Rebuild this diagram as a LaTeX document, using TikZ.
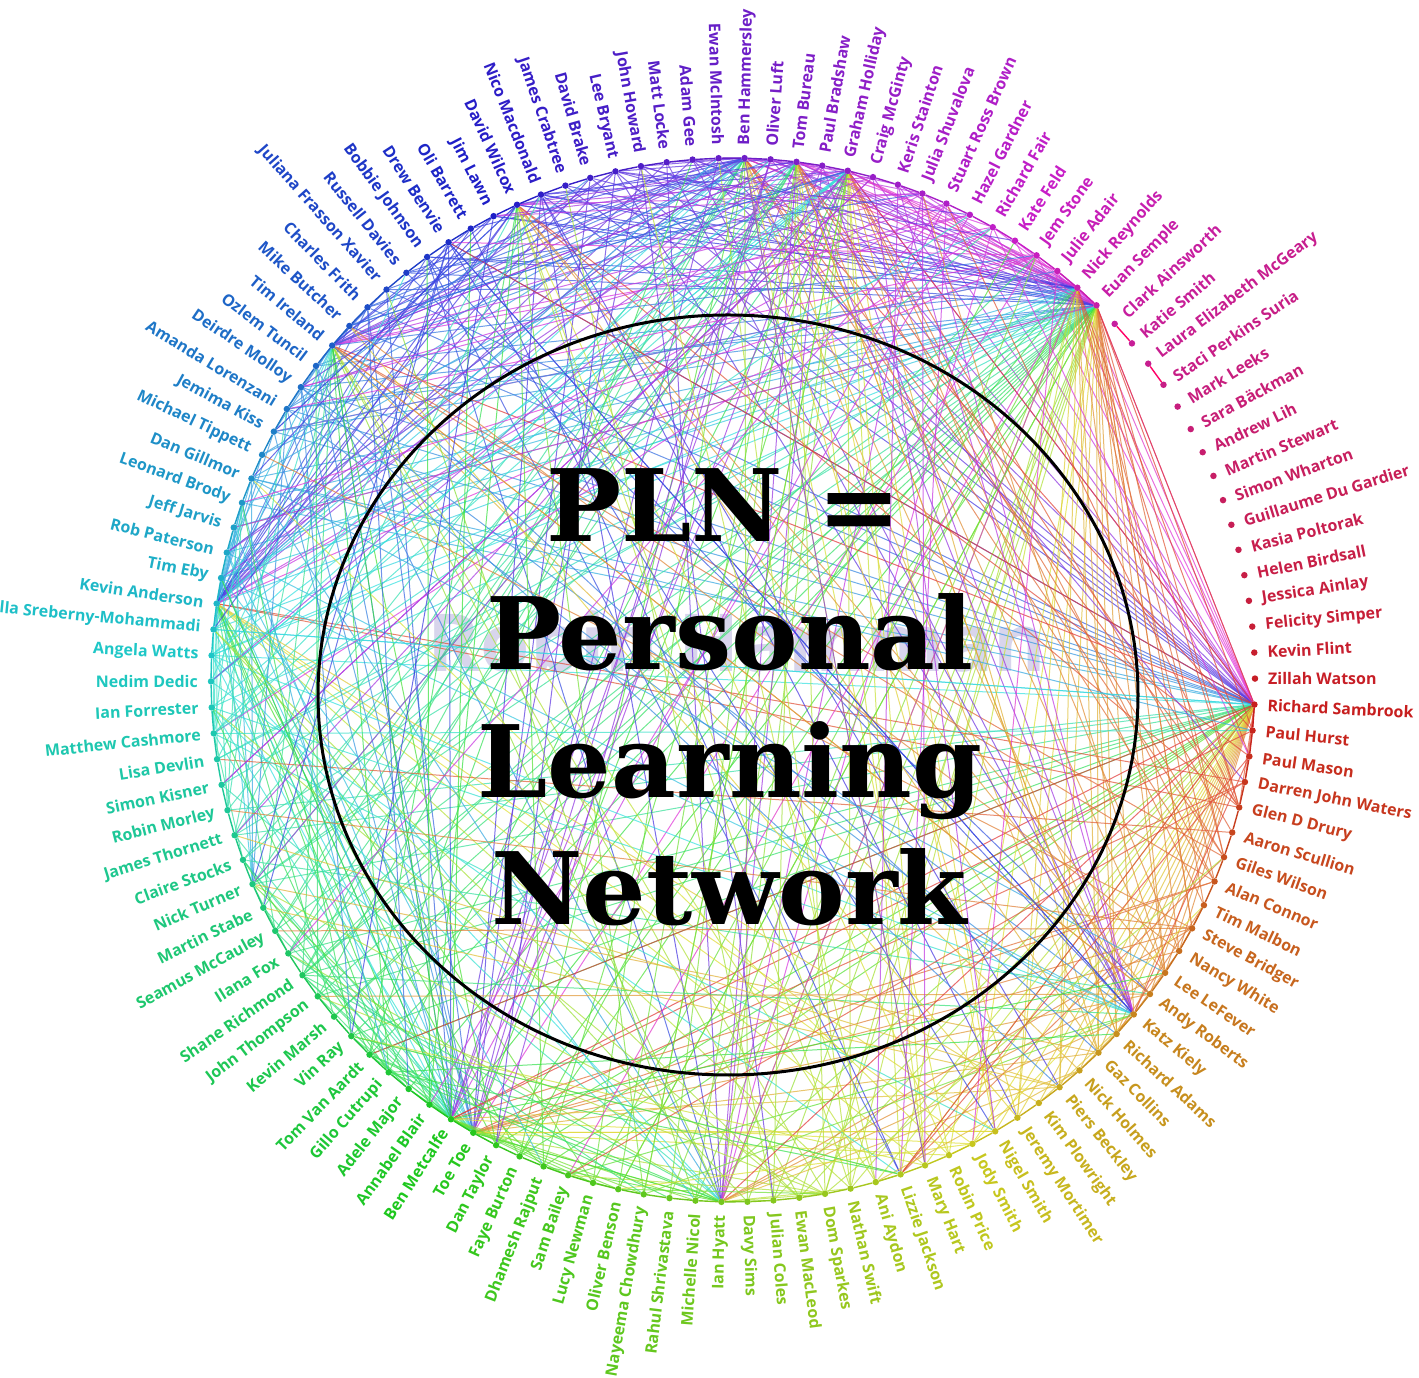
\PassOptionsToPackage{rgb}{xcolor}
\documentclass[tikz,border=0pt]{standalone}
\usepackage{fontspec}
\setmainfont{DejaVu Serif}
\newfontfamily\namefont{Open Sans}
\usepackage{xcolor}
\definecolor{cInk}{HTML}{000000}
\definecolor{cMark}{HTML}{D8D5EC}
\usetikzlibrary{backgrounds}
\tikzset{
  node-dot/.style={circle,inner sep=0pt,minimum size=6.5pt,draw=none},
  node-name/.style={inner sep=0pt,font=\namefont\bfseries\fontsize{16}{16}\selectfont},
  node-title/.style={inner sep=0pt,anchor=base,text=cInk,
    font=\bfseries\fontsize{100}{100}\selectfont},
  node-mark/.style={inner sep=0pt,anchor=base,text=cMark,
    font=\namefont\bfseries\fontsize{80}{80}\selectfont},
  link/.style={line width=1pt,opacity=0.72},
  ring/.style={line width=1.4pt},
  rim/.style={draw=cInk,line width=3pt},
}

\begin{document}
\begin{tikzpicture}[x=1pt,y=1pt]
  \useasboundingbox (0,0) rectangle (1419,1378);
  \begin{scope}[shift={(733,698)}]
  % names round the ring, clockwise from the right
  \foreach \nm [count=\i] in {Richard Sambrook,Paul Hurst,Paul Mason,
    Darren John Waters,Glen D Drury,Aaron Scullion,Giles Wilson,Alan Connor,
    Tim Malbon,Steve Bridger,Nancy White,Lee LeFever,Andy Roberts,Katz Kiely,
    Richard Adams,Gaz Collins,Nick Holmes,Piers Beckley,Kim Plowright,
    Jeremy Mortimer,Nigel Smith,Jody Smith,Robin Price,Mary Hart,
    Lizzie Jackson,Ani Aydon,Nathan Swift,Dom Sparkes,Ewan MacLeod,
    Julian Coles,Davy Sims,Ian Hyatt,Michelle Nicol,Rahul Shrivastava,
    Nayeema Chowdhury,Oliver Benson,Lucy Newman,Sam Bailey,Dhamesh Rajput,
    Faye Burton,Dan Taylor,Toe Toe,Ben Metcalfe,Annabel Blair,Adele Major,
    Gillo Cutrupi,Tom Van Aardt,Vin Ray,Kevin Marsh,John Thompson,
    Shane Richmond,Ilana Fox,Seamus McCauley,Martin Stabe,Nick Turner,
    Claire Stocks,James Thornett,Robin Morley,Simon Kisner,Lisa Devlin,
    Matthew Cashmore,Ian Forrester,Nedim Dedic,Angela Watts,
    Annabella Sreberny-Mohammadi,Kevin Anderson,Tim Eby,Rob Paterson,
    Jeff Jarvis,Leonard Brody,Dan Gillmor,Michael Tippett,Jemima Kiss,
    Amanda Lorenzani,Deirdre Molloy,Ozlem Tuncil,Tim Ireland,Mike Butcher,
    Charles Frith,Juliana Frasson Xavier,Russell Davies,Bobbie Johnson,
    Drew Benvie,Oli Barrett,Jim Lawn,David Wilcox,Nico Macdonald,
    James Crabtree,David Brake,Lee Bryant,John Howard,Matt Locke,Adam Gee,
    Ewan McIntosh,Ben Hammersley,Oliver Luft,Tom Bureau,Paul Bradshaw,
    Graham Holliday,Craig McGinty,Keris Stainton,Julia Shuvalova,
    Stuart Ross Brown,Hazel Gardner,Richard Fair,Kate Feld,Jem Stone,
    Julie Adair,Nick Reynolds,Euan Semple,Clark Ainsworth,Katie Smith,
    Laura Elizabeth McGeary,Staci Perkins Suria,Mark Leeks,Sara Bäckman,
    Andrew Lih,Martin Stewart,Simon Wharton,Guillaume Du Gardier,
    Kasia Poltorak,Helen Birdsall,Jessica Ainlay,Felicity Simper,Kevin Flint,
    Zillah Watson} {
    \pgfmathsetmacro\ang{-2.7-(\i-1)*2.857143}
    \pgfmathsetmacro\hue{(\i-1)*2.857143}
    \pgfmathtruncatemacro\flip{(mod(\ang+720,360)>90)&&(mod(\ang+720,360)<270)}
    \definecolor{nc}{Hsb}{\hue,0.85,0.78}
    \node[node-dot,fill=nc] (n\i) at (\ang:522) {};
    \ifnum\flip=1
      \node[node-name,text=nc,anchor=east,rotate=\ang+180] (l\i) at (\ang:535) {\nm};
    \else
      \node[node-name,text=nc,anchor=west,rotate=\ang] (l\i) at (\ang:535) {\nm};
    \fi
  }
  \end{scope}

  % centre text
  \draw[rim] (728,683) ellipse [x radius=410,y radius=380];
  \node[node-title] (pln)      at (724,836) {PLN =};
  \node[node-title] (personal) at (730,708) {Personal};
  \node[node-title] (learning) at (730,580) {Learning};
  \node[node-title] (network)  at (729,453) {Network};

  \begin{pgfonlayer}{background}
    \node[node-mark] (mark) at (737,706) {Robin Hamman};
    % hubs and their links
    \pgfmathsetseed{7}
    \foreach \hub/\pr in {1/0.6,110/0.5,109/0.35,66/0.35,95/0.3,99/0.3,
        42/0.3,43/0.25,32/0.25,25/0.15,77/0.25,14/0.15,55/0.1,86/0.2,97/0.2} {
      \foreach \i in {1,...,110} {
        \pgfmathsetmacro\rv{rnd}
        \pgfmathsetmacro\hue{(\i-1)*2.857143}
        \definecolor{ec}{Hsb}{\hue,0.75,0.88}
        \ifdim\rv pt<\pr pt
          \ifnum\i=\hub\else
            \draw[link,ec] (n\i) -- (n\hub);
          \fi
        \fi
      }
    }
    \foreach \k in {1,...,160} {
      \pgfmathrandominteger\ua{1}{110}
      \pgfmathrandominteger\va{1}{110}
      \pgfmathsetmacro\hue{(\ua-1)*2.857143}
      \definecolor{ec}{Hsb}{\hue,0.75,0.88}
      \ifnum\ua=\va\else
        \draw[link,ec] (n\ua) -- (n\va);
      \fi
    }
    % the ring
    \foreach \i [evaluate=\i as \j using {int(\i+1)}] in {1,...,109} {
      \pgfmathsetmacro\hue{(\i-1)*2.857143}
      \definecolor{ec}{Hsb}{\hue,0.85,0.78}
      \draw[ring,ec] (n\i) -- (n\j);
    }
    \draw[ring,red!60!magenta] (n111) -- (n112);
    \draw[ring,red!60!magenta] (n113) -- (n114);
  \end{pgfonlayer}
\end{tikzpicture}
\end{document}
